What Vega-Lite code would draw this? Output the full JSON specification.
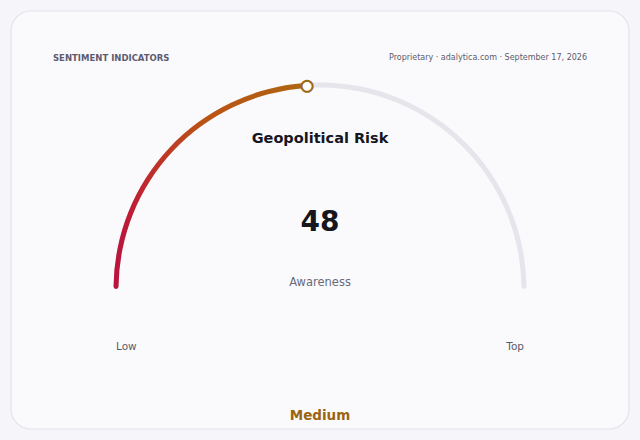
{
  "$schema": "https://vega.github.io/schema/vega-lite/v6.json",
  "width": 640,
  "height": 440,
  "autosize": {"type": "fit", "contains": "padding"},
  "padding": 0,
  "background": "#f5f5fa",
  "config": {
    "view": {"stroke": null},
    "font": "DejaVu Sans",
    "text": {"font": "DejaVu Sans"}
  },
  "datasets": {
    "gauge": [{"metric": "Geopolitical Risk", "value": 48, "max": 100, "unit": "Awareness", "band": "Medium"}],
    "ends": [{"label": "Low", "value": 0}, {"label": "Top", "value": 100}]
  },
  "data": {"name": "gauge"},
  "layer": [
    {
      "mark": {"type": "rect", "x": 11, "y": 11, "x2": 629, "y2": 429, "cornerRadius": 20,
        "fill": "#fafafd", "stroke": "#e2e2ec", "strokeWidth": 1.2}
    },
    {
      "mark": {"type": "arc", "x": 320, "y": 289, "innerRadius": 201.5, "outerRadius": 206.5, "cornerRadius": 2.5, "color": "#e5e5eb"},
      "encoding": {
        "theta": {"field": "max", "type": "quantitative", "scale": {"domain": [0, 100], "range": [-1.5708, 1.5708]}}
      }
    },
    {
      "mark": {
        "type": "arc", "x": 320, "y": 289, "innerRadius": 201.5, "outerRadius": 206.5, "cornerRadius": 2.5,
        "color": {"gradient": "linear", "x1": 0, "y1": 0.5, "x2": 1, "y2": 0.5,
          "stops": [{"offset": 0, "color": "#b9123f"}, {"offset": 0.15, "color": "#c0262f"}, {"offset": 0.45, "color": "#bb5215"}, {"offset": 1, "color": "#ad6610"}]}
      },
      "encoding": {
        "theta": {"field": "value", "type": "quantitative"}
      }
    },
    {
      "mark": {"type": "text", "x": 320, "y": 289, "radius": 204, "fontSize": 14.5, "fill": "#ffffff", "stroke": "#9a6a12", "strokeWidth": 2, "baseline": "middle", "dy": 1},
      "encoding": {
        "theta": {"field": "value", "type": "quantitative", "stack": null},
        "text": {"value": "●"}
      }
    },
    {
      "mark": {"type": "text", "x": 320, "y": 138.5, "fontSize": 14.5, "fontWeight": "bold", "color": "#16161e", "baseline": "middle"},
      "encoding": {"text": {"field": "metric"}}
    },
    {
      "mark": {"type": "text", "x": 320, "y": 222.5, "fontSize": 28, "fontWeight": "bold", "color": "#16161e", "baseline": "middle"},
      "encoding": {"text": {"field": "value"}}
    },
    {
      "mark": {"type": "text", "x": 320, "y": 282.5, "fontSize": 11.5, "color": "#6a6a7a", "baseline": "middle"},
      "encoding": {"text": {"field": "unit"}}
    },
    {
      "mark": {"type": "text", "x": 320, "y": 415.5, "fontSize": 13.5, "fontWeight": "bold", "color": "#9a6410", "baseline": "middle"},
      "encoding": {"text": {"field": "band"}}
    },
    {
      "mark": {"type": "text", "x": 53, "y": 58, "fontSize": 8.5, "fontWeight": "bold", "color": "#5c5c70", "align": "left", "baseline": "middle"},
      "encoding": {"text": {"value": "SENTIMENT INDICATORS"}}
    },
    {
      "mark": {"type": "text", "x": 587, "y": 58, "fontSize": 8, "color": "#5c5c6c", "align": "right", "baseline": "middle"},
      "encoding": {"text": {"value": "Proprietary · adalytica.com · September 17, 2026"}}
    },
    {
      "data": {"name": "ends"},
      "mark": {"type": "text", "x": 320, "y": 289, "radius": 204, "dy": 57.5, "fontSize": 10.5, "color": "#5a5a68", "baseline": "middle",
        "align": {"expr": "datum.label == 'Low' ? 'left' : 'right'"}},
      "encoding": {
        "theta": {"field": "value", "type": "quantitative", "stack": null},
        "text": {"field": "label"}
      }
    }
  ]
}
